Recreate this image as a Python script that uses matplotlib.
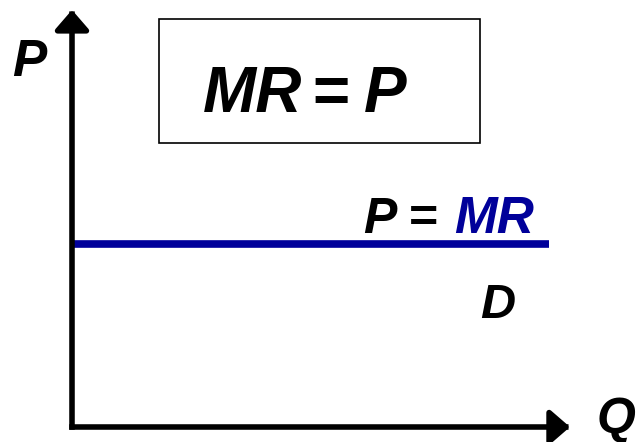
import matplotlib.pyplot as plt
from matplotlib.patches import Rectangle

# demand curve of a price taker: flat at the market price
q_vals = [0, 10]
p_vals = [4.4, 4.4]
q_max = 10.44   # tip of the Q axis arrow
p_max = 10.05   # tip of the P axis arrow

line_color = '#00009A'
font = 'Liberation Sans'

fig = plt.figure(figsize=(6.37, 4.42), dpi=100)

# overlay in pixel coordinates for labels and the box
ov = fig.add_axes([0, 0, 1, 1])
ov.set_xlim(0, 637)
ov.set_ylim(442, 0)
ov.axis('off')

ax = fig.add_axes([72 / 637, 15 / 442, 477 / 637, 415 / 442])
ax.set_xlim(0, 10)
ax.set_ylim(0, 10)
ax.axis('off')

arrow = dict(arrowstyle='-|>,head_length=0.6,head_width=0.52', mutation_scale=20,
             lw=4, color='black', shrinkA=0, shrinkB=0, capstyle='projecting')
ax.annotate('', xy=(0, p_max), xytext=(0, 0), arrowprops=arrow, annotation_clip=False)
ax.annotate('', xy=(q_max, 0), xytext=(0, 0), arrowprops=arrow, annotation_clip=False)

ax.plot(q_vals, p_vals, color=line_color, lw=5.5, solid_capstyle='butt', clip_on=False)

bi = dict(family=font, fontweight='bold', fontstyle='italic')
b = dict(family=font, fontweight='bold')

# axis labels
ov.text(12, 76, 'P', fontsize=37, **bi)
ov.text(597, 433, 'Q', fontsize=36, **bi)

# box with MR = P
ov.add_patch(Rectangle((159, 19), 321, 124, fill=False, lw=1.2, edgecolor='black'))
ov.text(203, 112, 'MR', fontsize=46, **bi)
ov.text(312, 112, '=', fontsize=46, **b)
ov.text(364, 112, 'P', fontsize=46, **bi)

# line labels
ov.text(363, 233, 'P', fontsize=36, **bi)
ov.text(409, 233, '=', fontsize=36, **b)
ov.text(454, 233, 'MR', fontsize=37, color=line_color, **bi)
ov.text(480, 318, 'D', fontsize=35, **bi)

fig.savefig('out.png', dpi=100)
